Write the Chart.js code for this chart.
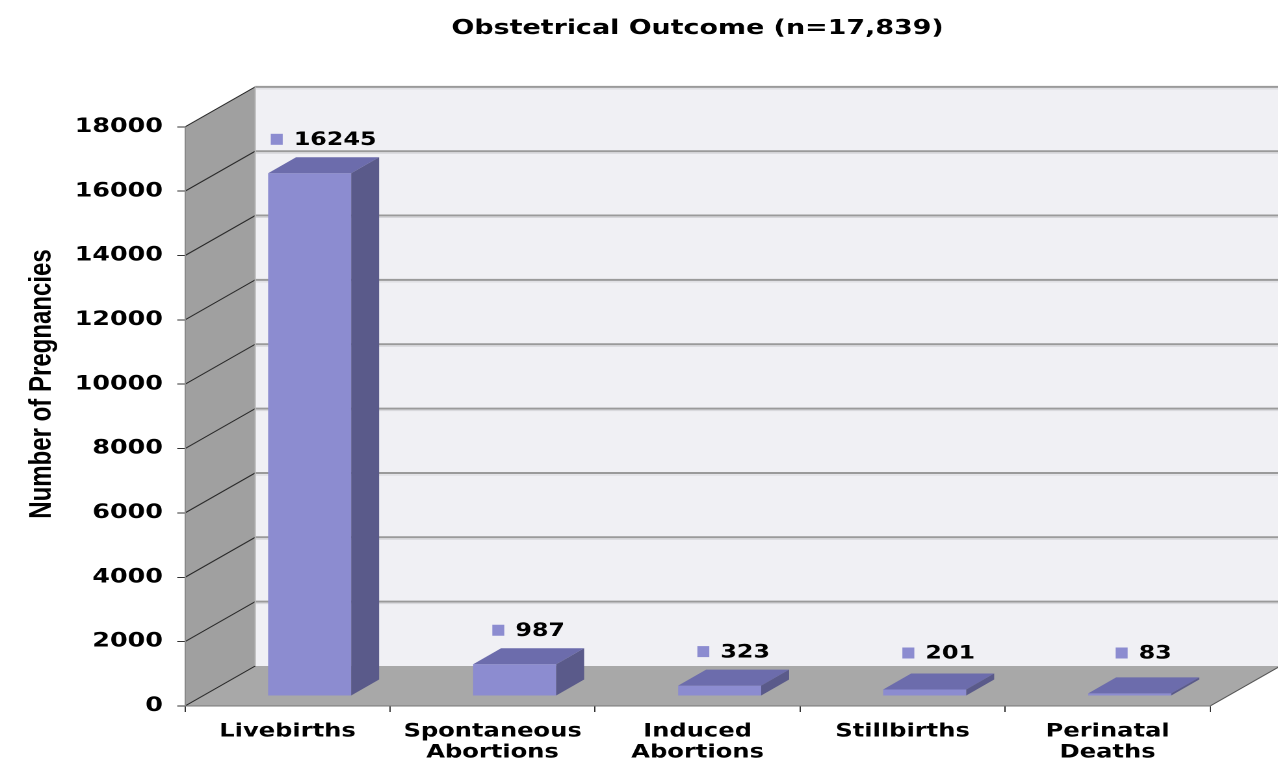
<!DOCTYPE html>
<html>
<head>
<meta charset="utf-8">
<title>Obstetrical Outcome</title>
<script src="https://cdn.jsdelivr.net/npm/chart.js@4.4.1/dist/chart.umd.min.js"></script>
<style>
  html, body { margin: 0; padding: 0; background: #fff; overflow: hidden; }
  /* the original picture is stretched sideways, so the chart is drawn narrow and scaled */
  #wrap { width: 983px; height: 764px; transform: scaleX(1.3001); transform-origin: 0 0; }
</style>
</head>
<body>
<div id="wrap"><canvas id="chart"></canvas></div>
<script>
const categories = ['Livebirths', ['Spontaneous', 'Abortions'], ['Induced', 'Abortions'], 'Stillbirths', ['Perinatal', 'Deaths']];
const pregnancies = [16245, 987, 323, 201, 83];
const yTickValues = [0, 2000, 4000, 6000, 8000, 10000, 12000, 14000, 16000, 18000];

// depth of the walls / floor, and of the bars (canvas px, before the sideways stretch)
const DX = 54, DY = -40;
const BAR_OFF_X = 17, BAR_OFF_Y = -10;
const BAR_DX = 21.5, BAR_DY = -16;

const FONT = '"DejaVu Sans", Verdana, sans-serif';

function poly(ctx, pts, fill, stroke) {
  ctx.beginPath();
  ctx.moveTo(pts[0][0], pts[0][1]);
  for (let i = 1; i < pts.length; i++) ctx.lineTo(pts[i][0], pts[i][1]);
  ctx.closePath();
  if (fill) { ctx.fillStyle = fill; ctx.fill(); }
  if (stroke) { ctx.strokeStyle = stroke; ctx.lineWidth = 1; ctx.stroke(); }
}

function line(ctx, x1, y1, x2, y2, color, w) {
  ctx.beginPath();
  ctx.moveTo(x1, y1);
  ctx.lineTo(x2, y2);
  ctx.strokeStyle = color;
  ctx.lineWidth = w;
  ctx.stroke();
}

const wallsPlugin = {
  id: 'walls3d',
  beforeDraw(chart) {
    const { ctx, chartArea: a } = chart;
    const yScale = chart.scales.y;
    const L = a.left, R = a.right, T = a.top, B = a.bottom;
    ctx.save();
    // back wall
    ctx.fillStyle = '#f0f0f4';
    ctx.fillRect(L + DX, T + DY, R - L, B - T);
    // side wall and floor
    poly(ctx, [[L, T], [L + DX, T + DY], [L + DX, B + DY], [L, B]], '#a0a0a0');
    poly(ctx, [[L, B], [L + DX, B + DY], [R + DX, B + DY], [R, B]], '#a8a8a8');

    for (const v of yTickValues) {
      const py = yScale.getPixelForValue(v);
      if (v > 0) {
        line(ctx, L + DX, py + DY, R + DX, py + DY, '#9a9a9a', 2);
        line(ctx, L + DX, py + DY + 2, R + DX, py + DY + 2, '#d6d6da', 1);
      }
      line(ctx, L, py, L + DX, py + DY, '#2a2a2a', 1);
    }
    line(ctx, L + DX, T + DY, L + DX, B + DY, '#b8b8b8', 1);
    line(ctx, R, B, R + DX, B + DY, '#555', 1);

    // y axis title
    ctx.translate(32.3, 384);
    ctx.rotate(-Math.PI / 2);
    ctx.font = 'bold 24px "Liberation Sans", Arial, sans-serif';
    ctx.fillStyle = '#000';
    ctx.textAlign = 'center';
    ctx.textBaseline = 'middle';
    ctx.fillText('Number of Pregnancies', 0, 0);
    ctx.restore();
  }
};

const barsPlugin = {
  id: 'bars3d',
  beforeDatasetDraw(chart) {
    chart.ctx.save();
    chart.ctx.translate(BAR_OFF_X, BAR_OFF_Y);
  },
  afterDatasetDraw(chart, args) {
    const ctx = chart.ctx;
    const bars = args.meta.data;
    bars.forEach(bar => {
      const { x, y, base, width } = bar.getProps(['x', 'y', 'base', 'width'], true);
      const xl = x - width / 2, xr = x + width / 2;
      poly(ctx, [[xl, y], [xl + BAR_DX, y + BAR_DY], [xr + BAR_DX, y + BAR_DY], [xr, y]], '#6c6cac');
      poly(ctx, [[xr, y], [xr + BAR_DX, y + BAR_DY], [xr + BAR_DX, base + BAR_DY], [xr, base]], '#5a5a8a');
    });
    ctx.restore();

    // value labels with a small colour square
    ctx.save();
    ctx.font = 'bold 18.3px ' + FONT;
    ctx.textBaseline = 'middle';
    ctx.textAlign = 'left';
    bars.forEach((bar, i) => {
      const { x, y } = bar.getProps(['x', 'y'], true);
      const txt = String(pregnancies[i]);
      const tw = ctx.measureText(txt).width;
      const total = 9.2 + 8.5 + tw;
      const cx = x + BAR_OFF_X + BAR_DX / 2;
      const cy = Math.min(y - 44, 653);
      const x0 = cx - total / 2;
      ctx.fillStyle = '#8c8cd0';
      ctx.fillRect(x0, cy - 5.5, 9.2, 11);
      ctx.fillStyle = '#000';
      ctx.fillText(txt, x0 + 17.7, cy + 1);
    });
    ctx.restore();
  }
};

new Chart(document.getElementById('chart'), {
  type: 'bar',
  data: {
    labels: categories,
    datasets: [{
      data: pregnancies,
      backgroundColor: '#8c8cd0',
      borderWidth: 0,
      barPercentage: 0.405,
      categoryPercentage: 1,
      clip: false
    }]
  },
  options: {
    responsive: true,
    maintainAspectRatio: false,
    animation: false,
    devicePixelRatio: 2,
    layout: { padding: { left: 0, right: 52.2, top: 0, bottom: 0 } },
    plugins: {
      legend: { display: false },
      tooltip: { enabled: false },
      title: {
        display: true,
        text: 'Obstetrical Outcome (n=17,839)',
        fullSize: false,
        color: '#000',
        font: { family: FONT, size: 20.7, weight: 'bold' },
        padding: { top: 16, bottom: 86 }
      }
    },
    scales: {
      x: {
        grid: { offset: true, drawOnChartArea: false, drawTicks: true, tickLength: 6, color: '#333' },
        border: { display: true, color: '#777' },
        ticks: {
          color: '#000',
          font: { family: FONT, size: 18.6, weight: 'bold', lineHeight: 1.13 },
          padding: 9,
          maxRotation: 0,
          autoSkip: false
        },
        afterFit: (s) => { s.height = 58; }
      },
      y: {
        min: 0,
        max: 18000,
        afterBuildTicks: (s) => { s.ticks = yTickValues.map(v => ({ value: v })); },
        grid: { drawOnChartArea: false, drawTicks: true, tickLength: 6, color: '#333' },
        border: { display: true, color: '#888' },
        ticks: {
          color: '#000',
          font: { family: FONT, size: 19.5, weight: 'bold' },
          padding: 11,
          callback: (v) => String(v)
        },
        afterFit: (s) => { s.width = 142.3; }
      }
    }
  },
  plugins: [wallsPlugin, barsPlugin]
});
</script>
</body>
</html>
